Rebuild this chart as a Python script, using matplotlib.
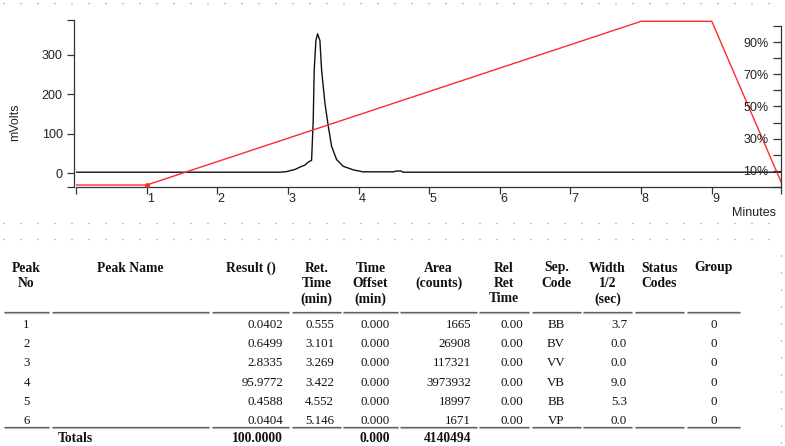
import matplotlib
matplotlib.use("Agg")
import matplotlib.pyplot as plt
from matplotlib.transforms import ScaledTranslation
from matplotlib.lines import Line2D

plt.rcParams['font.family'] = ['Liberation Sans', 'DejaVu Sans']

# chromatogram trace (minutes, mV)
trace_t = [0.00, 2.89, 2.98, 3.10, 3.17, 3.24, 3.29, 3.335, 3.358, 3.372, 3.396, 3.42,
           3.453, 3.477, 3.524, 3.571, 3.618, 3.689, 3.783, 3.925, 4.06, 4.50, 4.53,
           4.60, 4.63, 9.98]
trace_mv = [2, 2, 3.5, 9, 15, 20, 28, 32, 133, 260, 336, 353,
            336, 260, 177, 119, 68, 34, 17, 8, 3, 3, 5,
            5, 2, 2]

# solvent gradient (%B)
grad_t = [0, 1, 8, 9, 10]
grad_pct = [0, 0, 100, 100, 0]

# peak table
peak_no = [1, 2, 3, 4, 5, 6]
result = [0.0402, 0.6499, 2.8335, 95.9772, 0.4588, 0.0404]
ret_time = [0.555, 3.101, 3.269, 3.422, 4.552, 5.146]
time_offset = [0.000, 0.000, 0.000, 0.000, 0.000, 0.000]
area = [1665, 26908, 117321, 3973932, 18997, 1671]
rel_ret = [0.00, 0.00, 0.00, 0.00, 0.00, 0.00]
sep_code = ['BB', 'BV', 'VV', 'VB', 'BB', 'VP']
width_half = [3.7, 0.0, 0.0, 9.0, 5.3, 0.0]
group = [0, 0, 0, 0, 0, 0]

headers = [['Peak', 'No'], ['Peak Name'], ['Result ()'], ['Ret.', 'Time', '(min)'],
           ['Time', 'Offset', '(min)'], ['Area', '(counts)'], ['Rel', 'Ret', 'Time'],
           ['Sep.', 'Code'], ['Width', '1/2', '(sec)'], ['Status', 'Codes'], ['Group']]

W, H = 785, 446
fig = plt.figure(figsize=(W / 100, H / 100), dpi=100)

# background layer in pixel coordinates for the page decoration and the table
page = fig.add_axes([0, 0, 1, 1])
page.set_xlim(0, W)
page.set_ylim(H, 0)
page.axis('off')

dots = dict(color='#8a8a8a', lw=1.0, linestyle=(0, (0.72, 11.52)))
for yy in [3, 223, 239]:
    page.add_line(Line2D([3, 776], [yy, yy], **dots))
page.add_line(Line2D([781, 781], [255, H], **dots))

# ---- chart ----
ax = fig.add_axes([76 / W, 1 - 187 / H, 705 / W, 167 / H])
ax.plot(trace_t, trace_mv, color='#111111', lw=1.0)
ax.set_xlim(0, 9.98)
ax.set_ylim(-35.5, 388)
for s in ['top', 'right']:
    ax.spines[s].set_visible(False)
for s in ['left', 'bottom']:
    ax.spines[s].set_color('#333333')
    ax.spines[s].set_linewidth(0.9)
ax.spines['left'].set_position(('outward', 1.5))

ax.set_xticks(list(range(10)) + [9.98])
ax.set_xticklabels([''] + [str(i) for i in range(1, 10)] + [''])
ax.set_yticks([-35.5, 0, 100, 200, 300, 388])
ax.set_yticklabels(['', '0', '100', '200', '300', ''])
ax.tick_params(axis='both', direction='out', length=5, width=0.9, color='#333333',
               labelcolor='#222222', labelsize=9)
ax.tick_params(axis='x', pad=-1)
ax.tick_params(axis='y', pad=3)
shift = ScaledTranslation(4 / 100, 0, fig.dpi_scale_trans)
for lab in ax.get_xticklabels():
    lab.set_transform(lab.get_transform() + shift)

# gradient line on its own scale
axg = ax.twinx()
axg.plot(grad_t, grad_pct, color='#ff2a2a', lw=1.0, marker='o', ms=2.5, markevery=[1])
axg.set_ylim(-1.2, 100.8)
axg.set_xlim(0, 9.98)
axg.axis('off')

# percent scale on the right, labels drawn inside
axp = ax.twinx()
axp.set_ylim(0, 103.7)
for s in ['top', 'bottom', 'right']:
    axp.spines[s].set_visible(False)
axp.spines['left'].set_position(('axes', 1.0))
axp.spines['left'].set_bounds(0, 100)
axp.spines['left'].set_color('#333333')
axp.spines['left'].set_linewidth(0.9)
axp.yaxis.set_ticks_position('left')
axp.set_yticks(range(0, 101, 10))
axp.set_yticklabels(['%d%%' % v if v % 20 == 10 else '' for v in range(0, 101, 10)])
axp.tick_params(axis='y', direction='out', length=6, width=0.9, color='#333333',
                labelcolor='#222222', labelsize=9, pad=3)

fig.text(15 / W, 1 - 122 / H, 'mVolts', rotation=90, ha='center', va='center',
         fontsize=9, color='#222222')
fig.text(776 / W, 1 - 213 / H, 'Minutes', ha='right', va='center', fontsize=9,
         color='#222222')

# ---- peak table ----
cols = [(4, 49), (52, 209), (212, 289), (292, 341), (343, 398), (400, 477),
        (479, 529), (532, 581), (583, 632), (635, 684), (687, 740)]
serif = ['Liberation Serif', 'DejaVu Serif']
hdr_base = [271.5, 287, 302.5]
for (x0, x1), lines in zip(cols, headers):
    for j, txt in enumerate(lines):
        page.text((x0 + x1) / 2, hdr_base[j], txt, ha='center', va='baseline',
                  family=serif, fontsize=9.8, weight='bold', color='#111111')

for y in [312.5, 427.5]:
    for x0, x1 in cols:
        page.plot([x0, x1], [y - 0.6, y - 0.6], color='#555555', lw=0.9, solid_capstyle='butt')
        page.plot([x0, x1], [y + 0.9, y + 0.9], color='#b0b0b0', lw=0.9, solid_capstyle='butt')

row_h = 19.1
for i in range(len(peak_no)):
    yb = 328.3 + i * row_h
    cells = [
        (str(peak_no[i]), 'center', 26.5),
        ('%.4f' % result[i], 'right', 283),
        ('%.3f' % ret_time[i], 'right', 334),
        ('%.3f' % time_offset[i], 'right', 390),
        ('%d' % area[i], 'right', 471),
        ('%.2f' % rel_ret[i], 'right', 523),
        (sep_code[i], 'center', 556),
        ('%.1f' % width_half[i], 'right', 627),
        (str(group[i]), 'center', 713.5),
    ]
    for txt, ha, x in cells:
        page.text(x, yb, txt, ha=ha, va='baseline', family=serif, fontsize=9.3,
                  color='#111111')

tot_y = 442.5
page.text(75, tot_y, 'Totals', ha='center', va='baseline', family=serif,
          fontsize=9.8, weight='bold', color='#111111')
page.text(283, tot_y, '%.4f' % sum(result), ha='right', va='baseline', family=serif,
          fontsize=9.8, weight='bold', color='#111111')
page.text(390, tot_y, '%.3f' % sum(time_offset), ha='right', va='baseline', family=serif,
          fontsize=9.8, weight='bold', color='#111111')
page.text(471, tot_y, '%d' % sum(area), ha='right', va='baseline', family=serif,
          fontsize=9.8, weight='bold', color='#111111')

fig.savefig('out.png', dpi=100)
